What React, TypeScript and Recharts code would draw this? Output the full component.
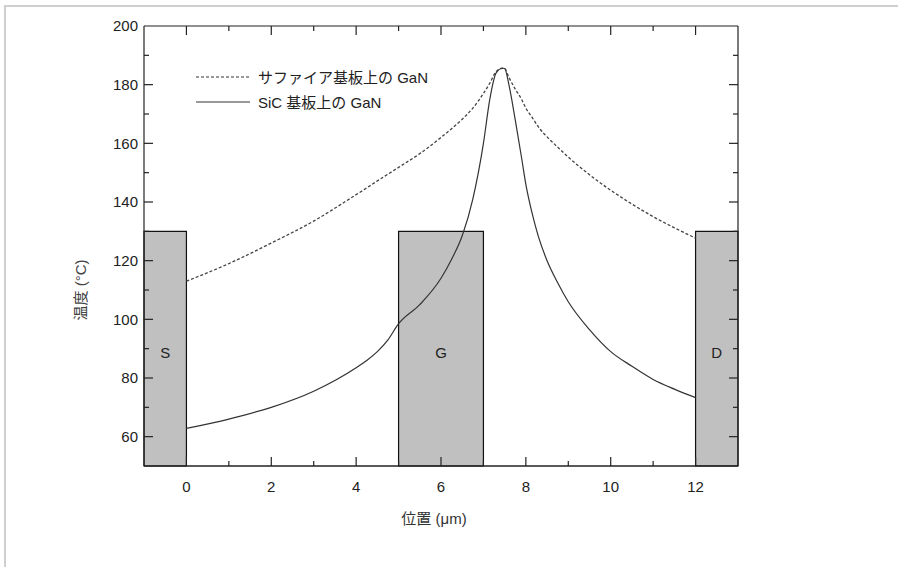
import {
  LineChart,
  Line,
  XAxis,
  YAxis,
  ReferenceArea,
  Legend,
  Label,
} from "recharts";

// position along the device (µm)
const POSITIONS = [
  0, 1, 2, 3, 4, 4.25, 4.5, 4.75, 5, 5.5, 6, 6.25, 6.5, 6.75, 7, 7.15, 7.3, 7.45, 7.5, 7.6, 7.75, 7.9, 8, 8.15,
  8.3, 8.5, 8.75, 9, 9.5, 10, 10.5, 11, 11.5, 12,
];
// temperature (°C), GaN on sapphire (dashed)
const SAPPHIRE = [
  113, 119, 126, 133.5, 142.5, 144.8, 147.2, 149.5, 151.8, 156.5, 162, 165, 168.2, 172, 177, 180.5, 184.5, 185.6,
  185.5, 182.5, 178.5, 175, 172, 168.8, 165.5, 162.2, 158.7, 155.3, 149.3, 144, 139.3, 135, 131.2, 127.7,
];
// temperature (°C), GaN on SiC (solid)
const SIC = [
  62.8, 66, 70, 75.5, 83.5, 86, 89, 93, 98.5, 105, 114, 120.5, 128.5, 141, 160, 175, 184, 185.6, 185.5, 180, 168,
  155, 146, 136, 128, 120, 112.5, 106, 96.5, 89, 84, 79.5, 76.2, 73.3,
];

const X_TICKS = [0, 1, 2, 3, 4, 5, 6, 7, 8, 9, 10, 11, 12];
const Y_TICKS = [60, 70, 80, 90, 100, 110, 120, 130, 140, 150, 160, 170, 180, 190, 200];

// electrodes: label, x range
const ELECTRODES = [
  { label: "S", x1: -1, x2: 0 },
  { label: "G", x1: 5, x2: 7 },
  { label: "D", x1: 12, x2: 13 },
];
const ELECTRODE_TOP = 130;

const SERIES_NAMES = ["サファイア基板上の GaN", "SiC 基板上の GaN"];

const data = POSITIONS.map((x, i) => ({ x, sapphire: SAPPHIRE[i], sic: SIC[i] }));

const FONT = '"Liberation Sans", Arial, "Noto Sans CJK JP", sans-serif';
const INK = "#222";

function BottomTick({ x, y, payload }: any) {
  const v = payload.value as number;
  const major = v % 2 === 0;
  return (
    <g>
      <line x1={x} y1={y} x2={x} y2={y - (major ? 9 : 5)} stroke={INK} strokeWidth={1.2} />
      {major && (
        <text x={x} y={y + 26} textAnchor="middle" fontSize={15} fill={INK} fontFamily={FONT}>
          {v}
        </text>
      )}
    </g>
  );
}

function TopTick({ x, y, payload }: any) {
  const major = (payload.value as number) % 2 === 0;
  return <line x1={x} y1={y} x2={x} y2={y + (major ? 9 : 5)} stroke={INK} strokeWidth={1.2} />;
}

function LeftTick({ x, y, payload }: any) {
  const v = payload.value as number;
  const major = v % 20 === 0;
  return (
    <g>
      {v < 200 && <line x1={x} y1={y} x2={x + (major ? 9 : 5)} y2={y} stroke={INK} strokeWidth={1.2} />}
      {major && (
        <text x={x - 6} y={y} dy="0.36em" textAnchor="end" fontSize={15} fill={INK} fontFamily={FONT}>
          {v}
        </text>
      )}
    </g>
  );
}

function RightTick({ x, y, payload }: any) {
  const v = payload.value as number;
  if (v >= 200) return null;
  const major = v % 20 === 0;
  return <line x1={x} y1={y} x2={x - (major ? 9 : 5)} y2={y} stroke={INK} strokeWidth={1.2} />;
}

function LegendContent() {
  return (
    <div style={{ fontFamily: FONT, fontSize: 15, color: INK }}>
      {SERIES_NAMES.map((name, i) => (
        <div key={name} style={{ display: "flex", alignItems: "center", height: 25 }}>
          <svg width={54} height={6} style={{ marginRight: 8 }}>
            <line
              x1={0}
              y1={3}
              x2={54}
              y2={3}
              stroke="#333"
              strokeWidth={1.2}
              strokeDasharray={i === 0 ? "3 2" : undefined}
            />
          </svg>
          <span>{name}</span>
        </div>
      ))}
    </div>
  );
}

export default function App() {
  return (
    <div style={{ position: "absolute", left: 0, top: 0, width: 898, height: 567, background: "#fff" }}>
      <div
        style={{
          position: "absolute",
          left: 4,
          top: 5,
          right: 0,
          bottom: 0,
          borderTop: "2px solid #cfcfcf",
          borderLeft: "2px solid #cfcfcf",
        }}
      />
      <LineChart
        width={898}
        height={567}
        data={data}
        margin={{ top: 25, right: 159, left: 84, bottom: 61 }}
        style={{ position: "absolute", left: 0, top: 0 }}
      >
        <XAxis
          dataKey="x"
          type="number"
          domain={[-1, 13]}
          ticks={X_TICKS}
          interval={0}
          allowDataOverflow
          height={40}
          tickSize={0}
          tickMargin={0}
          tickLine={false}
          tick={<BottomTick />}
          axisLine={{ stroke: INK, strokeWidth: 1.5 }}
        >
          <Label
            content={({ viewBox }: any) => (
              <text
                x={viewBox.x + viewBox.width / 2 - 7}
                y={viewBox.y + 58}
                textAnchor="middle"
                fontSize={15}
                fill="#333"
                fontFamily={FONT}
              >
                位置 (μm)
              </text>
            )}
          />
        </XAxis>
        <XAxis
          xAxisId="top"
          orientation="top"
          dataKey="x"
          type="number"
          domain={[-1, 13]}
          ticks={X_TICKS}
          interval={0}
          allowDataOverflow
          height={1}
          tickSize={0}
          tickMargin={0}
          tickLine={false}
          tick={<TopTick />}
          axisLine={{ stroke: INK, strokeWidth: 1.2 }}
        />
        <YAxis
          type="number"
          domain={[50, 200]}
          ticks={Y_TICKS}
          interval={0}
          allowDataOverflow
          width={60}
          tickSize={0}
          tickMargin={0}
          tickLine={false}
          tick={<LeftTick />}
          axisLine={{ stroke: INK, strokeWidth: 1.2 }}
        >
          <Label
            content={({ viewBox }: any) => {
              const cx = viewBox.x - 4;
              const cy = viewBox.y + viewBox.height / 2 + 44;
              return (
                <text
                  x={cx}
                  y={cy}
                  transform={`rotate(-90 ${cx} ${cy})`}
                  textAnchor="middle"
                  dominantBaseline="central"
                  fontSize={15}
                  fill="#444"
                  fontFamily={FONT}
                >
                  温度 (°C)
                </text>
              );
            }}
          />
        </YAxis>
        <YAxis
          yAxisId="right"
          orientation="right"
          type="number"
          domain={[50, 200]}
          ticks={Y_TICKS}
          interval={0}
          allowDataOverflow
          width={1}
          tickSize={0}
          tickMargin={0}
          tickLine={false}
          tick={<RightTick />}
          axisLine={{ stroke: INK, strokeWidth: 1.2 }}
        />
        {ELECTRODES.map((e) => (
          <ReferenceArea
            key={e.label}
            x1={e.x1}
            x2={e.x2}
            y1={50}
            y2={ELECTRODE_TOP}
            fill="#c0c0c0"
            fillOpacity={1}
            stroke="#111"
            strokeWidth={1.2}
            label={{ value: e.label, position: "center", fill: INK, fontSize: 15, fontFamily: FONT, dy: 4 }}
          />
        ))}
        <Line
          dataKey="sapphire"
          name={SERIES_NAMES[0]}
          type="monotone"
          stroke="#444"
          strokeWidth={1.3}
          strokeDasharray="3 2"
          dot={false}
          isAnimationActive={false}
        />
        <Line
          dataKey="sic"
          name={SERIES_NAMES[1]}
          type="monotone"
          stroke="#333"
          strokeWidth={1.2}
          dot={false}
          isAnimationActive={false}
        />
        <Legend
          layout="vertical"
          align="center"
          verticalAlign="middle"
          content={<LegendContent />}
          wrapperStyle={{ left: 196, top: 64, width: 260, height: 50 }}
        />
      </LineChart>
    </div>
  );
}
